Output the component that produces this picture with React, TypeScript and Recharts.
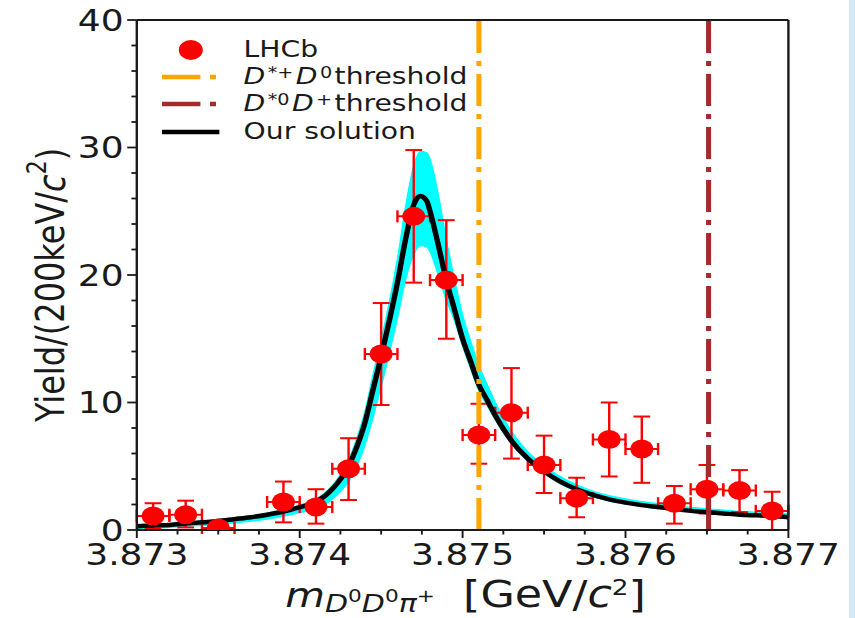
import React from "react";
import {
  Area,
  ComposedChart,
  ErrorBar,
  Legend,
  Line,
  ReferenceLine,
  Scatter,
  XAxis,
  YAxis,
} from "recharts";

// LHCb measured yield per 200 keV bin
const binCenters = [
  3.8731, 3.8733, 3.8735, 3.8739, 3.8741, 3.8743, 3.8745, 3.8747, 3.8749, 3.8751,
  3.8753, 3.8755, 3.8757, 3.8759, 3.8761, 3.8763, 3.8765, 3.8767, 3.8769,
];
const yields = [1.1, 1.2, 0.15, 2.2, 1.8, 4.8, 13.8, 24.6, 19.6, 7.45, 9.2, 5.1, 2.5, 7.1, 6.35, 2.1, 3.2, 3.1, 1.5];
const yieldHigh = [2.1, 2.3, 0.15, 3.8, 3.2, 7.2, 17.8, 29.8, 24.3, 9.9, 12.7, 7.4, 4.1, 10.0, 8.9, 3.45, 5.1, 4.7, 3.0];
const yieldLow = [0.1, 0.2, 0.15, 0.6, 0.5, 2.35, 9.8, 19.4, 15.0, 5.2, 5.6, 2.9, 1.0, 4.2, 3.7, 0.5, 1.3, 1.4, 0];
const binHalfWidth = 0.0001;

// fitted line shape ("Our solution") and its uncertainty band
const fitMass = [
  3.873, 3.8731, 3.8732, 3.8733, 3.8734, 3.8735, 3.8736, 3.8737, 3.8738, 3.8739,
  3.874, 3.8741, 3.8742, 3.8743, 3.87435, 3.8744, 3.87445, 3.8745, 3.87455, 3.8746,
  3.87465, 3.8747, 3.87474, 3.87478, 3.8748, 3.87485, 3.8749, 3.87495, 3.875, 3.87505,
  3.8751, 3.87515, 3.8752, 3.8753, 3.8754, 3.8755, 3.8756, 3.8757, 3.8758, 3.8759,
  3.876, 3.8761, 3.8762, 3.8763, 3.8764, 3.8765, 3.8766, 3.8767, 3.8768, 3.8769, 3.877,
];
const fitYield = [
  0.3, 0.35, 0.4, 0.5, 0.6, 0.7, 0.85, 1.0, 1.2, 1.45,
  1.8, 2.2, 3.2, 5.0, 6.5, 8.4, 11.0, 13.6, 16.4, 19.4,
  22.8, 25.5, 26.2, 25.8, 25.0, 22.4, 19.6, 17.3, 15.0, 13.2,
  11.4, 10.2, 9.0, 7.0, 5.6, 4.6, 3.8, 3.2, 2.75, 2.4,
  2.15, 1.95, 1.8, 1.65, 1.5, 1.4, 1.3, 1.2, 1.15, 1.1, 1.0,
];
const bandLow = [
  0.1, 0.15, 0.2, 0.28, 0.35, 0.42, 0.55, 0.68, 0.85, 1.05,
  1.35, 1.65, 2.4, 3.8, 5.0, 6.6, 8.8, 11.2, 13.8, 16.6,
  19.6, 21.6, 22.3, 22.2, 21.8, 20.0, 18.0, 16.4, 14.4, 12.6,
  10.9, 9.75, 8.65, 6.75, 5.38, 4.42, 3.63, 3.05, 2.6, 2.27,
  2.03, 1.83, 1.68, 1.55, 1.42, 1.3, 1.2, 1.12, 1.06, 1.0, 0.93,
];
const bandHigh = [
  0.4, 0.45, 0.5, 0.6, 0.7, 0.82, 0.97, 1.12, 1.33, 1.6,
  1.97, 2.42, 3.5, 5.5, 7.2, 9.3, 12.2, 14.9, 17.9, 21.3,
  25.4, 28.6, 29.7, 29.6, 29.1, 26.4, 22.8, 19.7, 16.9, 14.8,
  12.9, 11.45, 10.05, 7.75, 6.15, 5.05, 4.2, 3.55, 3.05, 2.7,
  2.45, 2.23, 2.07, 1.92, 1.78, 1.67, 1.57, 1.47, 1.42, 1.36, 1.3,
];

const thresholdChargedD = 3.8751; // D*+ D0
const thresholdNeutralD = 3.87651; // D*0 D+

const xMajorTicks = [3.873, 3.874, 3.875, 3.876, 3.877];
const xAllTicks = [
  3.873, 3.87325, 3.8735, 3.87375, 3.874, 3.87425, 3.8745, 3.87475, 3.875,
  3.87525, 3.8755, 3.87575, 3.876, 3.87625, 3.8765, 3.87675, 3.877,
];
const yMajorTicks = [0, 10, 20, 30, 40];
const yAllTicks = [0, 2, 4, 6, 8, 10, 12, 14, 16, 18, 20, 22, 24, 26, 28, 30, 32, 34, 36, 38, 40];

// the reference image is stretched horizontally; draw narrow, then widen
const STRETCH = 1.2;
const W = 855 / STRETCH;
const H = 618;
const FONT = "'DejaVu Sans', sans-serif";
const INK = "#1a1a1a";
const RED = "#ff0000";
const ORANGE = "#ffa500";
const BROWN = "#a52a2a";
const DASHDOT = "32 8 5 8";

const fitRows = fitMass.map((x, i) => ({ x, fit: fitYield[i], lo: bandLow[i], hi: bandHigh[i] }));
const pointRows = binCenters.map((x, i) => ({
  x,
  y: yields[i],
  ex: binHalfWidth,
  ey: [yields[i] - yieldLow[i], yieldHigh[i] - yields[i]],
}));

function XTick(props: any) {
  const { x, y, payload } = props;
  const major = xMajorTicks.some((t) => Math.abs(t - payload.value) < 1e-9);
  return (
    <g>
      <line x1={x} x2={x} y1={y} y2={y + (major ? 8 : 4.5)} stroke={INK} strokeWidth={1.6} />
      {major ? (
        <text x={x} y={y + 35} textAnchor="middle" fontSize={30} fontFamily={FONT} fill={INK}>
          {payload.value.toFixed(3)}
        </text>
      ) : null}
    </g>
  );
}

function YTick(props: any) {
  const { x, y, payload } = props;
  const major = yMajorTicks.includes(payload.value);
  return (
    <g>
      <line x1={x} x2={x - (major ? 8 : 4.5)} y1={y} y2={y} stroke={INK} strokeWidth={1.8} />
      {major ? (
        <text x={x - 11} y={y + 11} textAnchor="end" fontSize={30} fontFamily={FONT} fill={INK}>
          {payload.value}
        </text>
      ) : null}
    </g>
  );
}

function XTitle() {
  return (
    <text x={388} y={607} textAnchor="middle" fontSize={37} fontFamily={FONT} fill={INK}>
      <tspan fontStyle="italic" fontSize={34}>m</tspan>
      <tspan fontSize={25} fontStyle="italic" dy={5}>D</tspan>
      <tspan fontSize={18} dy={-10}>0</tspan>
      <tspan fontSize={25} fontStyle="italic" dy={10}>D</tspan>
      <tspan fontSize={18} dy={-10}>0</tspan>
      <tspan fontSize={25} fontStyle="italic" dy={10}>π</tspan>
      <tspan fontSize={18} dy={-10}>+</tspan>
      <tspan dy={5}>{"\u00a0\u00a0[GeV/"}</tspan>
      <tspan fontStyle="italic">c</tspan>
      <tspan fontSize={22} dy={-12}>2</tspan>
      <tspan dy={12}>]</tspan>
    </text>
  );
}

function YTitle() {
  return (
    <text
      x={42}
      y={285}
      transform="rotate(-90, 42, 285)"
      textAnchor="middle"
      dominantBaseline="central"
      fontSize={32}
      fontFamily={FONT}
      fill={INK}
    >
      Yield/(200keV/
      <tspan fontStyle="italic">c</tspan>
      <tspan fontSize={22} dy={-12}>2</tspan>
      <tspan dy={12}>)</tspan>
    </text>
  );
}

function Sample({ kind }: { kind: string }) {
  return (
    <svg width={48} height={24} style={{ display: "block" }}>
      {kind === "dot" ? (
        <circle cx={24} cy={12} r={10} fill={RED} />
      ) : kind === "solid" ? (
        <line x1={0} x2={48} y1={12} y2={12} stroke="#000" strokeWidth={4.5} />
      ) : (
        <line
          x1={0}
          x2={48}
          y1={12}
          y2={12}
          stroke={kind === "orange" ? ORANGE : BROWN}
          strokeWidth={4.5}
          strokeDasharray={DASHDOT}
        />
      )}
    </svg>
  );
}

const sup = { fontSize: 16, position: "relative", top: -6, lineHeight: 1, margin: "0 2px" } as const;

function LegendBox() {
  const rows = [
    { kind: "dot", label: <>LHCb</> },
    {
      kind: "orange",
      label: (
        <>
          <i>D</i>
          <span style={sup}>*+</span>
          <i>D</i>
          <span style={sup}>0</span>threshold
        </>
      ),
    },
    {
      kind: "brown",
      label: (
        <>
          <i>D</i>
          <span style={sup}>*0</span>
          <i>D</i>
          <span style={sup}>+</span>threshold
        </>
      ),
    },
    { kind: "solid", label: <>Our solution</> },
  ];
  return (
    <div style={{ fontFamily: FONT, fontSize: 23.5, color: INK }}>
      {rows.map((r, i) => (
        <div key={i} style={{ display: "flex", alignItems: "center", height: 27.3 }}>
          <Sample kind={r.kind} />
          <span style={{ marginLeft: 20, whiteSpace: "nowrap", lineHeight: 1 }}>{r.label}</span>
        </div>
      ))}
    </div>
  );
}

export default function App() {
  return (
    <div style={{ position: "absolute", left: 0, top: 0, width: 855, height: H, background: "#fff", overflow: "hidden" }}>
      <div style={{ width: W, height: H, transform: `scaleX(${STRETCH})`, transformOrigin: "0 0" }}>
        <ComposedChart width={W} height={H} data={fitRows} margin={{ top: 20, right: W - 657, bottom: 38, left: 64 }}>
          <XAxis
            dataKey="x"
            type="number"
            domain={[3.873, 3.877]}
            ticks={xAllTicks}
            interval={0}
            allowDataOverflow
            tickSize={0}
            tickMargin={0}
            tickLine={false}
            tick={<XTick />}
            axisLine={{ stroke: INK, strokeWidth: 2 }}
            height={50}
            label={<XTitle />}
          />
          <YAxis
            type="number"
            domain={[0, 40]}
            ticks={yAllTicks}
            interval={0}
            allowDataOverflow
            tickSize={0}
            tickMargin={0}
            tickLine={false}
            tick={<YTick />}
            axisLine={{ stroke: INK, strokeWidth: 2 }}
            width={50}
            label={<YTitle />}
          />
          <Legend
            layout="vertical"
            align="center"
            verticalAlign="middle"
            wrapperStyle={{ left: 135, top: 36, width: 320 }}
            content={() => <LegendBox />}
          />
          <Scatter
            data={pointRows}
            dataKey="y"
            fill={RED}
            isAnimationActive={false}
            shape={(p: any) => <circle cx={p.cx} cy={p.cy} r={9.5} fill={RED} />}
          >
            <ErrorBar dataKey="ey" direction="y" width={7} stroke={RED} strokeWidth={2} />
            <ErrorBar dataKey="ex" direction="x" width={6} stroke={RED} strokeWidth={2} />
          </Scatter>
          <Area
            type="monotone"
            dataKey={(d: any) => [d.lo, d.hi]}
            stroke="#00ffff"
            strokeWidth={1}
            fill="#00ffff"
            fillOpacity={1}
            isAnimationActive={false}
            legendType="none"
          />
          <Line
            type="monotone"
            dataKey="fit"
            stroke="#000"
            strokeWidth={4.5}
            dot={false}
            isAnimationActive={false}
          />
          <ReferenceLine x={thresholdChargedD} stroke={ORANGE} strokeWidth={4.2} strokeDasharray={DASHDOT} />
          <ReferenceLine x={thresholdNeutralD} stroke={BROWN} strokeWidth={4.2} strokeDasharray={DASHDOT} />
          <ReferenceLine y={40} stroke={INK} strokeWidth={2} />
          <ReferenceLine x={3.877} stroke={INK} strokeWidth={2} />
        </ComposedChart>
      </div>
      <div style={{ position: "absolute", left: 849, top: 0, width: 6, height: H, background: "#d4e8f5" }} />
    </div>
  );
}
